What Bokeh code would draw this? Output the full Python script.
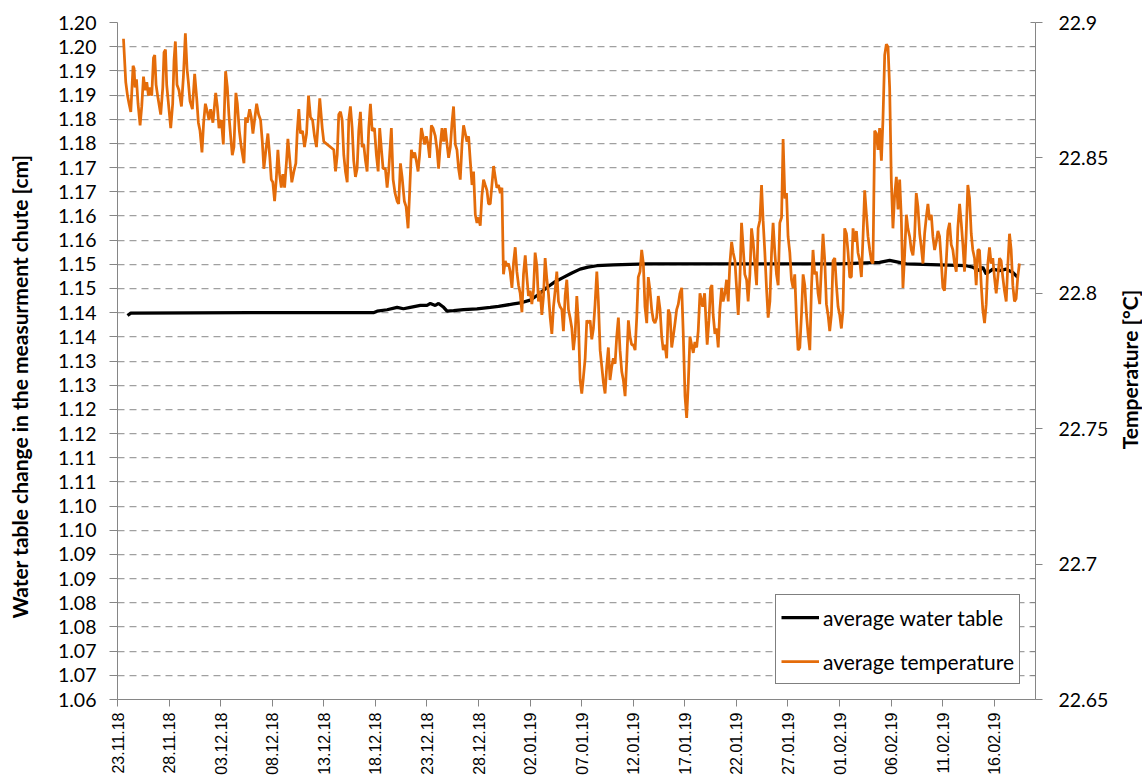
import pandas as pd
from math import pi
from bokeh.plotting import figure
from bokeh.layouts import row
from bokeh.models import (Range1d, LinearAxis, FixedTicker, Legend, LegendItem, Label,
                          DatetimeTickFormatter)
from bokeh.embed import file_html
from bokeh.resources import INLINE

# ---------------- data ----------------
START = "23.11.18"
END = "20.02.19"

x_tick_labels = ["23.11.18", "28.11.18", "03.12.18", "08.12.18", "13.12.18", "18.12.18",
                 "23.12.18", "28.12.18", "02.01.19", "07.01.19", "12.01.19", "17.01.19",
                 "22.01.19", "27.01.19", "01.02.19", "06.02.19", "11.02.19", "16.02.19"]

left_ticks = [1.06, 1.065, 1.07, 1.075, 1.08, 1.085, 1.09, 1.095, 1.10, 1.105, 1.11, 1.115,
              1.12, 1.125, 1.13, 1.135, 1.14, 1.145, 1.15, 1.155, 1.16, 1.165, 1.17, 1.175,
              1.18, 1.185, 1.19, 1.195, 1.20]
left_tick_labels = ["1.06", "1.07", "1.07", "1.08", "1.08", "1.09", "1.09", "1.10", "1.10",
                    "1.11", "1.11", "1.12", "1.12", "1.13", "1.13", "1.14", "1.14", "1.15",
                    "1.15", "1.16", "1.16", "1.17", "1.17", "1.18", "1.18", "1.19", "1.19",
                    "1.20", "1.20"]

right_ticks = [22.65, 22.70, 22.75, 22.80, 22.85, 22.90]
right_tick_labels = ["22.65", "22.7", "22.75", "22.8", "22.85", "22.9"]

LEFT_TITLE = "Water table change in the measurment chute [cm]"
RIGHT_TITLE = "Temperature [°C]"
SERIES_NAMES = ["average water table", "average temperature"]

# average water table: days after 23.11.18 and level [cm]
wt_days = [0.97, 1.29, 12.9, 24.81, 25.17, 26.14, 27.11, 27.72, 28.39, 29.36, 30.01, 30.33,
           30.81, 31.13, 31.62, 31.95, 32.58, 33.55, 34.85, 36.14, 36.94, 38.39, 39.04,
           40.01, 40.78, 41.63, 42.43, 43.23, 44.05, 44.85, 45.62, 46.47, 48.07, 51.31,
           57.43, 66.15, 70.02, 73.89, 74.86, 76.48, 79.70, 82.28, 82.92, 83.57, 83.89,
           84.22, 84.86, 85.51, 86.16, 86.80, 87.28]
wt_values = [1.1394, 1.1399, 1.1400, 1.1400, 1.1403, 1.1406, 1.1411, 1.1408, 1.1411, 1.1415,
             1.1415, 1.1419, 1.1415, 1.1419, 1.1411, 1.1403, 1.1404, 1.1406, 1.1408, 1.1411,
             1.1413, 1.1418, 1.1420, 1.1426, 1.1437, 1.1452, 1.1464, 1.1473, 1.1482, 1.1490,
             1.1494, 1.1497, 1.1499, 1.1501, 1.1501, 1.1501, 1.1501, 1.1504, 1.1508, 1.1501,
             1.1499, 1.1497, 1.1494, 1.1487, 1.1494, 1.1480, 1.1490, 1.1487, 1.1490, 1.1483,
             1.1473]

# average temperature: days after 23.11.18 and temperature [°C]
temp_days = [
    0.58, 0.80, 0.97, 1.12, 1.29, 1.51, 1.61, 1.70, 1.84, 1.99, 2.19, 2.35, 2.52, 2.67, 2.84,
    3.00, 3.16, 3.32, 3.49, 3.61, 3.74, 3.93, 4.19, 4.39, 4.51, 4.65, 4.77, 4.94, 5.16, 5.35,
    5.48, 5.61, 5.77, 5.96, 6.20, 6.39, 6.58, 6.74, 6.87, 7.03, 7.26, 7.48, 7.68, 7.84, 8.00,
    8.19, 8.35, 8.52, 8.71, 8.87, 9.03, 9.25, 9.52, 9.68, 9.84, 10.07, 10.26, 10.48, 10.65,
    10.80, 10.97, 11.13, 11.29, 11.48, 11.62, 11.81, 12.00, 12.26, 12.42, 12.58, 12.81, 12.97,
    13.13, 13.29, 13.49, 13.68, 13.87, 14.04, 14.19, 14.39, 14.58, 14.77, 14.91, 15.06, 15.23,
    15.39, 15.55, 15.71, 15.88, 16.03, 16.20, 16.39, 16.52, 16.71, 16.90, 17.10, 17.29, 17.43,
    17.58, 17.74, 17.94, 18.13, 18.33, 18.52, 18.71, 18.91, 19.10, 19.29, 19.49, 19.61, 19.85,
    20.00, 20.97, 21.14, 21.30, 21.45, 21.62, 21.78, 21.94, 22.10, 22.27, 22.42, 22.58, 22.75,
    22.90, 23.07, 23.23, 23.39, 23.55, 23.72, 23.87, 24.04, 24.20, 24.36, 24.52, 24.69, 24.91,
    25.10, 25.27, 25.42, 25.59, 25.75, 25.97, 26.14, 26.29, 26.55, 26.72, 26.91, 27.11, 27.26,
    27.43, 27.59, 27.81, 27.98, 28.17, 28.33, 28.49, 28.65, 28.81, 28.97, 29.14, 29.29, 29.46,
    29.62, 29.78, 29.94, 30.11, 30.26, 30.43, 30.59, 30.81, 30.98, 31.13, 31.30, 31.46, 31.62,
    31.78, 31.95, 32.10, 32.27, 32.43, 32.58, 32.75, 32.91, 33.07, 33.23, 33.40, 33.55, 33.72,
    33.88, 34.04, 34.20, 34.37, 34.52, 34.69, 34.85, 35.00, 35.17, 35.33, 35.49, 35.65, 35.82,
    35.97, 36.14, 36.30, 36.46, 36.62, 36.78, 36.94, 37.11, 37.27, 37.37, 37.42, 37.59, 37.75,
    37.91, 38.07, 38.24, 38.39, 38.56, 38.72, 38.88, 39.04, 39.21, 39.36, 39.53, 39.69, 39.84,
    40.01, 40.17, 40.33, 40.49, 40.66, 40.81, 40.98, 41.14, 41.30, 41.46, 41.63, 41.78, 41.95,
    42.11, 42.27, 42.43, 42.59, 42.75, 42.91, 43.08, 43.23, 43.40, 43.56, 43.72, 43.88, 44.05,
    44.20, 44.37, 44.53, 44.69, 44.85, 45.01, 45.17, 45.34, 45.50, 45.65, 45.82, 45.98, 46.14,
    46.30, 46.47, 46.62, 46.79, 46.95, 47.11, 47.27, 47.43, 47.59, 47.75, 47.92, 48.07, 48.24,
    48.40, 48.56, 48.72, 48.89, 49.04, 49.21, 49.37, 49.53, 49.69, 49.85, 50.01, 50.18, 50.34,
    50.49, 50.66, 50.82, 50.98, 51.14, 51.31, 51.46, 51.63, 51.79, 51.95, 52.11, 52.27, 52.43,
    52.60, 52.76, 52.91, 53.08, 53.24, 53.40, 53.57, 53.73, 53.88, 54.05, 54.21, 54.37, 54.53,
    54.70, 54.85, 55.02, 55.18, 55.34, 55.50, 55.66, 55.82, 55.98, 56.15, 56.30, 56.47, 56.73,
    56.92, 57.05, 57.17, 57.34, 57.50, 57.63, 57.75, 57.92, 58.08, 58.24, 58.40, 58.57, 58.72,
    58.89, 59.05, 59.21, 59.37, 59.54, 59.69, 59.86, 60.02, 60.18, 60.34, 60.50, 60.66, 60.82,
    60.99, 61.14, 61.31, 61.47, 61.63, 61.79, 61.96, 62.11, 62.28, 62.44, 62.59, 62.76, 62.92,
    63.08, 63.25, 63.41, 63.56, 63.73, 63.89, 64.05, 64.21, 64.38, 64.53, 64.70, 64.86, 65.01,
    65.18, 65.34, 65.50, 65.66, 65.83, 65.98, 66.15, 66.31, 66.47, 66.63, 66.80, 66.95, 67.12,
    67.28, 67.43, 67.60, 67.76, 67.92, 68.08, 68.25, 68.40, 68.57, 68.73, 68.89, 69.05, 69.21,
    69.37, 69.54, 69.70, 69.86, 70.02, 70.18, 70.34, 70.50, 70.67, 70.83, 70.99, 71.15, 71.31,
    71.48, 71.64, 71.79, 71.96, 72.12, 72.28, 72.44, 72.61, 72.76, 72.93, 73.09, 73.24, 73.41,
    73.57, 73.73, 73.89, 74.06, 74.21, 74.38, 74.54, 74.70, 74.86, 75.02, 75.18, 75.34, 75.51,
    75.67, 75.83, 75.99, 76.15, 76.31, 76.48, 76.63, 76.80, 76.96, 77.12, 77.28, 77.44, 77.60,
    77.77, 77.93, 78.09, 78.25, 78.41, 78.57, 78.73, 78.90, 79.05, 79.22, 79.38, 79.54, 79.70,
    79.86, 80.02, 80.18, 80.35, 80.50, 80.67, 80.83, 80.99, 81.15, 81.32, 81.47, 81.64, 81.80,
    81.96, 82.12, 82.28, 82.44, 82.61, 82.77, 82.92, 83.09, 83.25, 83.41, 83.57, 83.74, 83.89,
    84.06, 84.22, 84.38, 84.54, 84.70, 84.86, 85.02, 85.19, 85.35, 85.51, 85.67, 85.83, 85.99,
    86.16, 86.31, 86.48, 86.64, 86.80, 86.96, 87.12, 87.28, 87.44]
temp_values = [
    22.894, 22.878, 22.873, 22.870, 22.867, 22.884, 22.883, 22.876, 22.879, 22.870, 22.862,
    22.869, 22.880, 22.875, 22.878, 22.873, 22.876, 22.873, 22.887, 22.888, 22.877, 22.872,
    22.866, 22.876, 22.889, 22.890, 22.877, 22.870, 22.861, 22.870, 22.886, 22.893, 22.877,
    22.875, 22.869, 22.880, 22.896, 22.883, 22.878, 22.871, 22.868, 22.881, 22.872, 22.863,
    22.860, 22.852, 22.863, 22.870, 22.867, 22.864, 22.868, 22.863, 22.874, 22.869, 22.861,
    22.864, 22.855, 22.882, 22.876, 22.866, 22.858, 22.851, 22.854, 22.874, 22.870, 22.860,
    22.854, 22.848, 22.865, 22.863, 22.868, 22.865, 22.859, 22.864, 22.870, 22.866, 22.864,
    22.856, 22.846, 22.853, 22.859, 22.850, 22.842, 22.841, 22.834, 22.842, 22.853, 22.844,
    22.839, 22.844, 22.839, 22.849, 22.857, 22.849, 22.841, 22.845, 22.848, 22.860, 22.868,
    22.859, 22.860, 22.854, 22.859, 22.873, 22.865, 22.864, 22.858, 22.854, 22.865, 22.872,
    22.861, 22.856, 22.853, 22.845, 22.851, 22.866, 22.867, 22.864, 22.851, 22.845, 22.841,
    22.864, 22.869, 22.861, 22.849, 22.843, 22.846, 22.860, 22.867, 22.854, 22.855, 22.849,
    22.845, 22.861, 22.870, 22.860, 22.861, 22.851, 22.845, 22.861, 22.853, 22.846, 22.846,
    22.839, 22.845, 22.861, 22.842, 22.837, 22.834, 22.833, 22.848, 22.843, 22.834, 22.832,
    22.824, 22.838, 22.853, 22.850, 22.852, 22.849, 22.845, 22.851, 22.861, 22.858, 22.855,
    22.858, 22.855, 22.850, 22.862, 22.861, 22.858, 22.853, 22.846, 22.855, 22.861, 22.856,
    22.861, 22.855, 22.850, 22.854, 22.863, 22.869, 22.855, 22.853, 22.846, 22.842, 22.855,
    22.862, 22.859, 22.856, 22.858, 22.849, 22.840, 22.845, 22.829, 22.826, 22.828, 22.825,
    22.836, 22.842, 22.840, 22.838, 22.833, 22.833, 22.840, 22.847, 22.843, 22.839, 22.840,
    22.837, 22.839, 22.817, 22.807, 22.812, 22.810, 22.811, 22.808, 22.802, 22.811, 22.817,
    22.808, 22.803, 22.800, 22.793, 22.807, 22.814, 22.806, 22.799, 22.801, 22.796, 22.801,
    22.815, 22.810, 22.797, 22.801, 22.792, 22.799, 22.813, 22.805, 22.800, 22.791, 22.785,
    22.795, 22.801, 22.808, 22.797, 22.795, 22.794, 22.786, 22.799, 22.805, 22.794, 22.791,
    22.787, 22.779, 22.785, 22.799, 22.789, 22.768, 22.763, 22.769, 22.776, 22.790, 22.789,
    22.790, 22.783, 22.787, 22.796, 22.808, 22.797, 22.779, 22.773, 22.767, 22.763, 22.773,
    22.780, 22.768, 22.773, 22.776, 22.774, 22.784, 22.791, 22.779, 22.771, 22.768, 22.762,
    22.775, 22.790, 22.784, 22.781, 22.781, 22.779, 22.791, 22.806, 22.808, 22.816, 22.811,
    22.795, 22.789, 22.806, 22.801, 22.794, 22.790, 22.789, 22.791, 22.799, 22.794, 22.784,
    22.779, 22.781, 22.776, 22.794, 22.792, 22.780, 22.784, 22.789, 22.794, 22.796, 22.800,
    22.802, 22.785, 22.762, 22.754, 22.767, 22.784, 22.781, 22.778, 22.782, 22.780, 22.786,
    22.800, 22.795, 22.800, 22.790, 22.781, 22.790, 22.802, 22.803, 22.792, 22.785, 22.787,
    22.780, 22.794, 22.802, 22.797, 22.800, 22.805, 22.797, 22.811, 22.819, 22.815, 22.812,
    22.802, 22.792, 22.805, 22.826, 22.817, 22.807, 22.805, 22.797, 22.807, 22.824, 22.819,
    22.811, 22.803, 22.824, 22.827, 22.840, 22.827, 22.815, 22.802, 22.791, 22.797, 22.815,
    22.826, 22.815, 22.807, 22.803, 22.826, 22.828, 22.857, 22.835, 22.837, 22.821, 22.815,
    22.805, 22.802, 22.807, 22.790, 22.779, 22.780, 22.792, 22.807, 22.803, 22.792, 22.785,
    22.779, 22.802, 22.816, 22.807, 22.808, 22.800, 22.796, 22.810, 22.822, 22.812, 22.796,
    22.792, 22.786, 22.792, 22.812, 22.813, 22.803, 22.795, 22.792, 22.787, 22.794, 22.824,
    22.822, 22.815, 22.806, 22.806, 22.824, 22.819, 22.823, 22.815, 22.812, 22.806, 22.821,
    22.838, 22.829, 22.821, 22.816, 22.812, 22.811, 22.860, 22.859, 22.853, 22.861, 22.849,
    22.864, 22.888, 22.892, 22.891, 22.876, 22.842, 22.824, 22.836, 22.843, 22.831, 22.842,
    22.828, 22.802, 22.814, 22.829, 22.824, 22.821, 22.816, 22.814, 22.821, 22.837, 22.832,
    22.822, 22.817, 22.811, 22.822, 22.828, 22.833, 22.827, 22.829, 22.821, 22.816, 22.819,
    22.823, 22.821, 22.812, 22.802, 22.801, 22.812, 22.823, 22.826, 22.818, 22.816, 22.811,
    22.808, 22.824, 22.833, 22.826, 22.818, 22.808, 22.822, 22.840, 22.835, 22.822, 22.816,
    22.813, 22.803, 22.816, 22.816, 22.803, 22.794, 22.789, 22.796, 22.811, 22.817, 22.811,
    22.813, 22.806, 22.800, 22.806, 22.813, 22.812, 22.806, 22.801, 22.797, 22.810, 22.822,
    22.816, 22.803, 22.797, 22.798, 22.806, 22.811]

# ---------------- build ----------------
t0 = pd.to_datetime(START, format="%d.%m.%y")
t1 = pd.to_datetime(END, format="%d.%m.%y")
wt_x = t0 + pd.to_timedelta(wt_days, unit="D")
temp_x = t0 + pd.to_timedelta(temp_days, unit="D")

x_tick_ms = [float((pd.to_datetime(s, format="%d.%m.%y") - pd.Timestamp("1970-01-01"))
                   / pd.Timedelta(milliseconds=1)) for s in x_tick_labels]

ORANGE = "#E46C0A"
AXIS_GRAY = "#868686"
GRID_GRAY = "#A0A0A0"
NBSP = "\u00a0"

p = figure(x_axis_type="datetime", frame_width=918, frame_height=677,
           min_border_left=117, min_border_top=22, min_border_right=80, min_border_bottom=80,
           x_range=Range1d(t0, t1), y_range=Range1d(1.06, 1.20),
           output_backend="svg", toolbar_location=None)
p.extra_y_ranges = {"temp": Range1d(22.65, 22.90)}
p.outline_line_color = None
p.background_fill_color = "white"
p.border_fill_color = "white"

# left axis
ya = p.yaxis[0]
ya.ticker = FixedTicker(ticks=left_ticks)
ya.major_label_overrides = dict(zip(left_ticks, left_tick_labels))
ya.major_tick_out = 8
ya.major_tick_in = 0
ya.minor_tick_out = 0
ya.minor_tick_in = 0
ya.axis_line_color = AXIS_GRAY
ya.major_tick_line_color = AXIS_GRAY
ya.major_label_text_font = "Lato"
ya.major_label_text_font_size = "19.5px"
ya.major_label_text_color = "black"
ya.major_label_standoff = 13
# trailing no-break spaces move the centred title a little downwards, as in the reference
ya.axis_label = LEFT_TITLE + NBSP * 10
ya.axis_label_text_font = "Lato"
ya.axis_label_text_font_style = "bold"
ya.axis_label_text_font_size = "21px"
ya.axis_label_text_color = "black"
ya.axis_label_standoff = 23

# right axis
right_minor = [22.65 + (v - 1.06) / 0.14 * 0.25 for v in left_ticks]
ra = LinearAxis(y_range_name="temp",
                ticker=FixedTicker(ticks=right_ticks, minor_ticks=right_minor))
ra.major_label_overrides = dict(zip(right_ticks, right_tick_labels))
ra.major_tick_out = 7
ra.major_tick_in = 0
ra.minor_tick_in = 5
ra.minor_tick_out = 0
ra.axis_line_color = AXIS_GRAY
ra.major_tick_line_color = AXIS_GRAY
ra.minor_tick_line_color = AXIS_GRAY
ra.major_label_text_font = "Lato"
ra.major_label_text_font_size = "19.5px"
ra.major_label_text_color = "black"
ra.major_label_standoff = 16
p.add_layout(ra, "right")

# bottom axis
xa = p.xaxis[0]
xa.ticker = FixedTicker(ticks=x_tick_ms)
xa.formatter = DatetimeTickFormatter(days="%d.%m.%y", months="%d.%m.%y", years="%d.%m.%y",
                                     hours="%d.%m.%y")
xa.major_label_overrides = dict(zip(x_tick_ms, x_tick_labels))
xa.major_label_orientation = pi / 2
xa.major_tick_out = 7
xa.major_tick_in = 0
xa.minor_tick_out = 0
xa.minor_tick_in = 0
xa.axis_line_color = AXIS_GRAY
xa.major_tick_line_color = AXIS_GRAY
xa.major_label_text_font = "Liberation Sans"
xa.major_label_text_font_size = "16px"
xa.major_label_text_color = "black"
xa.major_label_standoff = 6

# grid
p.xgrid.visible = False
p.ygrid.ticker = FixedTicker(ticks=left_ticks)
p.ygrid.grid_line_color = GRID_GRAY
p.ygrid.grid_line_dash = "7 5"
p.ygrid.grid_line_width = 1.25

# lines
r_wt = p.line(wt_x, wt_values, line_color="black", line_width=3.25)
r_temp = p.line(temp_x, temp_values, line_color=ORANGE, line_width=2.75, y_range_name="temp")

legend = Legend(items=[LegendItem(label=SERIES_NAMES[0], renderers=[r_wt]),
                       LegendItem(label=SERIES_NAMES[1], renderers=[r_temp])],
                location=(658, 15))
legend.padding = 5
legend.margin = 0
legend.spacing = 10
legend.glyph_width = 38
legend.glyph_height = 34
legend.label_height = 34
legend.label_standoff = 4
legend.label_text_font = "Lato"
legend.label_text_font_size = "21px"
legend.label_text_color = "black"
legend.label_text_baseline = "middle"
legend.border_line_color = "black"
legend.border_line_width = 1
legend.background_fill_color = "white"
legend.background_fill_alpha = 1.0
p.add_layout(legend)

# narrow strip on the right carrying the right-hand axis title (reads bottom to top);
# its frame is aligned with the main frame by the row layout
p2 = figure(width=27, height=779, x_range=Range1d(0, 1), y_range=Range1d(0, 1),
            x_axis_location=None, y_axis_location=None, min_border=0,
            output_backend="svg", toolbar_location=None)
p2.outline_line_color = None
p2.grid.visible = False
p2.background_fill_color = "white"
p2.border_fill_color = "white"
p2.add_layout(Label(x=13.5, y=330, x_units="screen", y_units="screen", text=RIGHT_TITLE,
                    angle=pi / 2, text_align="center", text_baseline="middle",
                    text_font="Lato", text_font_style="bold", text_font_size="21px",
                    text_color="black"))

layout = row(p, p2)
open("out.html", "w").write(file_html(layout, INLINE))
